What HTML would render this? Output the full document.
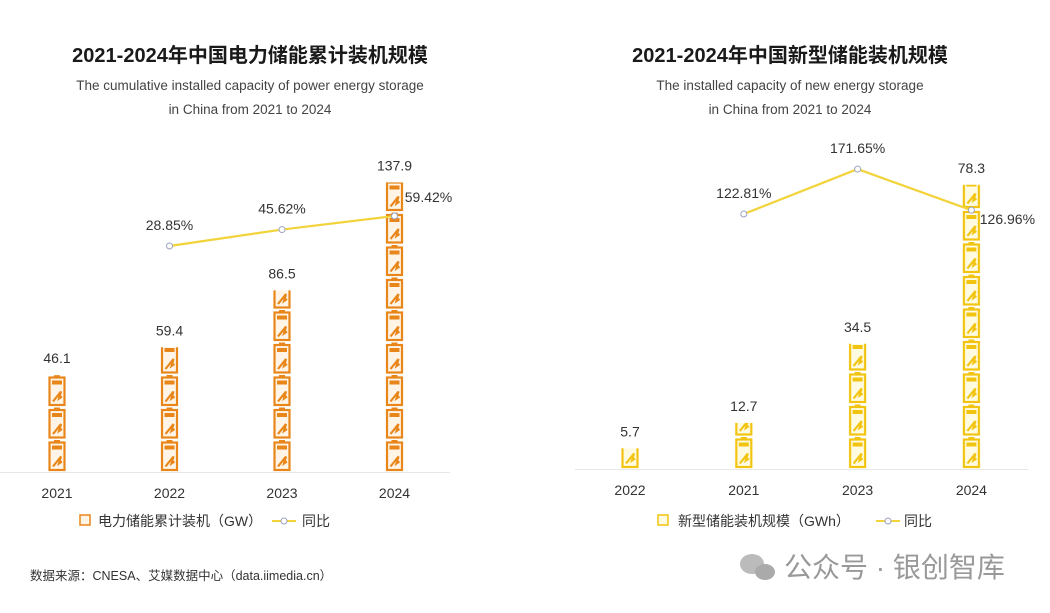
<!DOCTYPE html>
<html><head><meta charset="utf-8">
<style>
html,body{margin:0;padding:0;background:#fff;}
body{width:1050px;height:608px;overflow:hidden;font-family:"Liberation Sans","Noto Sans CJK SC",sans-serif;}
svg text{font-family:"Liberation Sans","Noto Sans CJK SC",sans-serif;}
</style></head>
<body>
<svg id="chart" width="1050" height="608" viewBox="0 0 1050 608" xmlns="http://www.w3.org/2000/svg">
<defs id="defs"></defs>
<text x="250" y="62" text-anchor="middle" font-size="20" font-weight="bold" fill="#1a1a1a">2021-2024年中国电力储能累计装机规模</text>
<text x="250" y="90" text-anchor="middle" font-size="13.5" fill="#444">The cumulative installed capacity of power energy storage</text>
<text x="250" y="114" text-anchor="middle" font-size="13.5" fill="#444">in China from 2021 to 2024</text>
<text x="790" y="62" text-anchor="middle" font-size="20" font-weight="bold" fill="#1a1a1a">2021-2024年中国新型储能装机规模</text>
<text x="790" y="90" text-anchor="middle" font-size="13.5" fill="#444">The installed capacity of new energy storage</text>
<text x="790" y="114" text-anchor="middle" font-size="13.5" fill="#444">in China from 2021 to 2024</text>
<line x1="0" y1="472.5" x2="450" y2="472.5" stroke="#e6e6e6"/>
<line x1="575" y1="469.5" x2="1028" y2="469.5" stroke="#e6e6e6"/>
<g id="left"></g><g id="right"></g>
<g>
<rect x="80" y="515" width="10" height="10" fill="#fff4e6" stroke="#e8861a" stroke-width="1.5"/>
<text x="98" y="526" font-size="14" fill="#333">电力储能累计装机（GW）</text>
<line x1="272" y1="521" x2="296" y2="521" stroke="#f2d33a" stroke-width="2"/>
<circle cx="284" cy="521" r="3" fill="#fff" stroke="#9aa3c0"/>
<text x="302" y="526" font-size="14" fill="#333">同比</text>
</g>
<g>
<rect x="658" y="515" width="10" height="10" fill="#fffbe0" stroke="#f2c40f" stroke-width="1.5"/>
<text x="678" y="526" font-size="14" fill="#333">新型储能装机规模（GWh）</text>
<line x1="876" y1="521" x2="900" y2="521" stroke="#f2d33a" stroke-width="2"/>
<circle cx="888" cy="521" r="3" fill="#fff" stroke="#9aa3c0"/>
<text x="904" y="526" font-size="14" fill="#333">同比</text>
</g>
<text x="30" y="580" font-size="12.5" fill="#333">数据来源：CNESA、艾媒数据中心（data.iimedia.cn）</text>
<g>
<ellipse cx="752" cy="564" rx="12" ry="10" fill="#bbb"/><ellipse cx="765" cy="572" rx="10" ry="8" fill="#aaa"/>
<text x="784" y="577" font-size="28" fill="#999">公众号 · 银创智库</text>
</g>
</svg>
<script>
const leftCats=["2021","2022","2023","2024"];
const leftVals=[46.1,59.4,86.5,137.9];
const leftYoY=[null,28.85,45.62,59.42];
const leftYoYLabels=["","28.85%","45.62%","59.42%"];
const rightCats=["2022","2021","2023","2024"];
const rightVals=[5.7,12.7,34.5,78.3];
const rightYoY=[null,122.81,171.65,126.96];
const rightYoYLabels=["","122.81%","171.65%","126.96%"];
const NS="http://www.w3.org/2000/svg";
function mk(tag,attrs,parent,txt){const e=document.createElementNS(NS,tag);for(const k in attrs)e.setAttribute(k,attrs[k]);if(txt!==undefined)e.textContent=txt;parent.appendChild(e);return e;}
const defs=document.getElementById('defs');
function makePattern(id,x,base,col,bg){
  const p=mk('pattern',{id:id,x:0,y:0,width:18,height:32.5,patternUnits:'userSpaceOnUse',patternTransform:'translate('+x+','+base+')'},defs);
  mk('rect',{x:1.5,y:3,width:15,height:27.5,fill:bg,stroke:col,'stroke-width':2.2},p);
  mk('rect',{x:6,y:0.5,width:6,height:3,fill:col},p);
  mk('rect',{x:4,y:6,width:10,height:4,fill:col},p);
  mk('path',{d:'M5 27 L13 17 L11 24 L14 22',fill:'none',stroke:col,'stroke-width':2.2},p);
}
function draw(gid,cats,vals,yoy,yoyLabels,cfg){
  const g=document.getElementById(gid);
  const xs=i=>cfg.x0+i*cfg.step;
  const yb=v=>cfg.base-v*cfg.k;
  const yl=p=>cfg.lb-(p-cfg.lref)*cfg.lk;
  cats.forEach((c,i)=>{
    const pid=gid+'-pat-'+i;
    makePattern(pid,xs(i)-9,cfg.base,cfg.col,cfg.bg);
    const r=mk('rect',{x:xs(i)-9,y:yb(vals[i]),width:18,height:cfg.base-yb(vals[i]),fill:'url(#'+pid+')'},g);
    
    
    const lt=mk('text',{x:xs(i),y:yb(vals[i])-12,'text-anchor':'middle','font-size':14,fill:'#333'},g,String(vals[i]));
    
    
    const ct=mk('text',{x:xs(i),y:cfg.base+26,'text-anchor':'middle','font-size':14,fill:'#333'},g,c);
    
    
  });
  const pts=[];yoy.forEach((p,i)=>{if(p!==null)pts.push([xs(i),yl(p),i]);});
  const pl=mk('polyline',{points:pts.map(p=>p[0]+','+p[1]).join(' '),fill:'none',stroke:'#f2d33a','stroke-width':2.2},g);
  
  
  pts.forEach((p,j)=>{
    const c=mk('circle',{cx:p[0],cy:p[1],r:3,fill:'#fff',stroke:'#9aa3c0','stroke-width':1},g);
    
    
    const last=j===pts.length-1;
    const t=mk('text',{x:last?p[0]+(cfg.lastBelow?36:34):p[0],y:last?p[1]+(cfg.lastBelow?14:-14):p[1]-16,'text-anchor':'middle','font-size':14,fill:'#333'},g,yoyLabels[p[2]]);
    
    
  });
}
draw('left',leftCats,leftVals,leftYoY,leftYoYLabels,{x0:57,step:112.5,base:472,k:2.1,lb:246,lref:28.85,lk:0.98,col:'#e8861a',bg:'#fff4e6',lastBelow:false});
draw('right',rightCats,rightVals,rightYoY,rightYoYLabels,{x0:630,step:113.8,base:469,k:3.63,lb:214,lref:122.81,lk:0.92,col:'#f2c40f',bg:'#fffbe0',lastBelow:true});
</script>
</body></html>
